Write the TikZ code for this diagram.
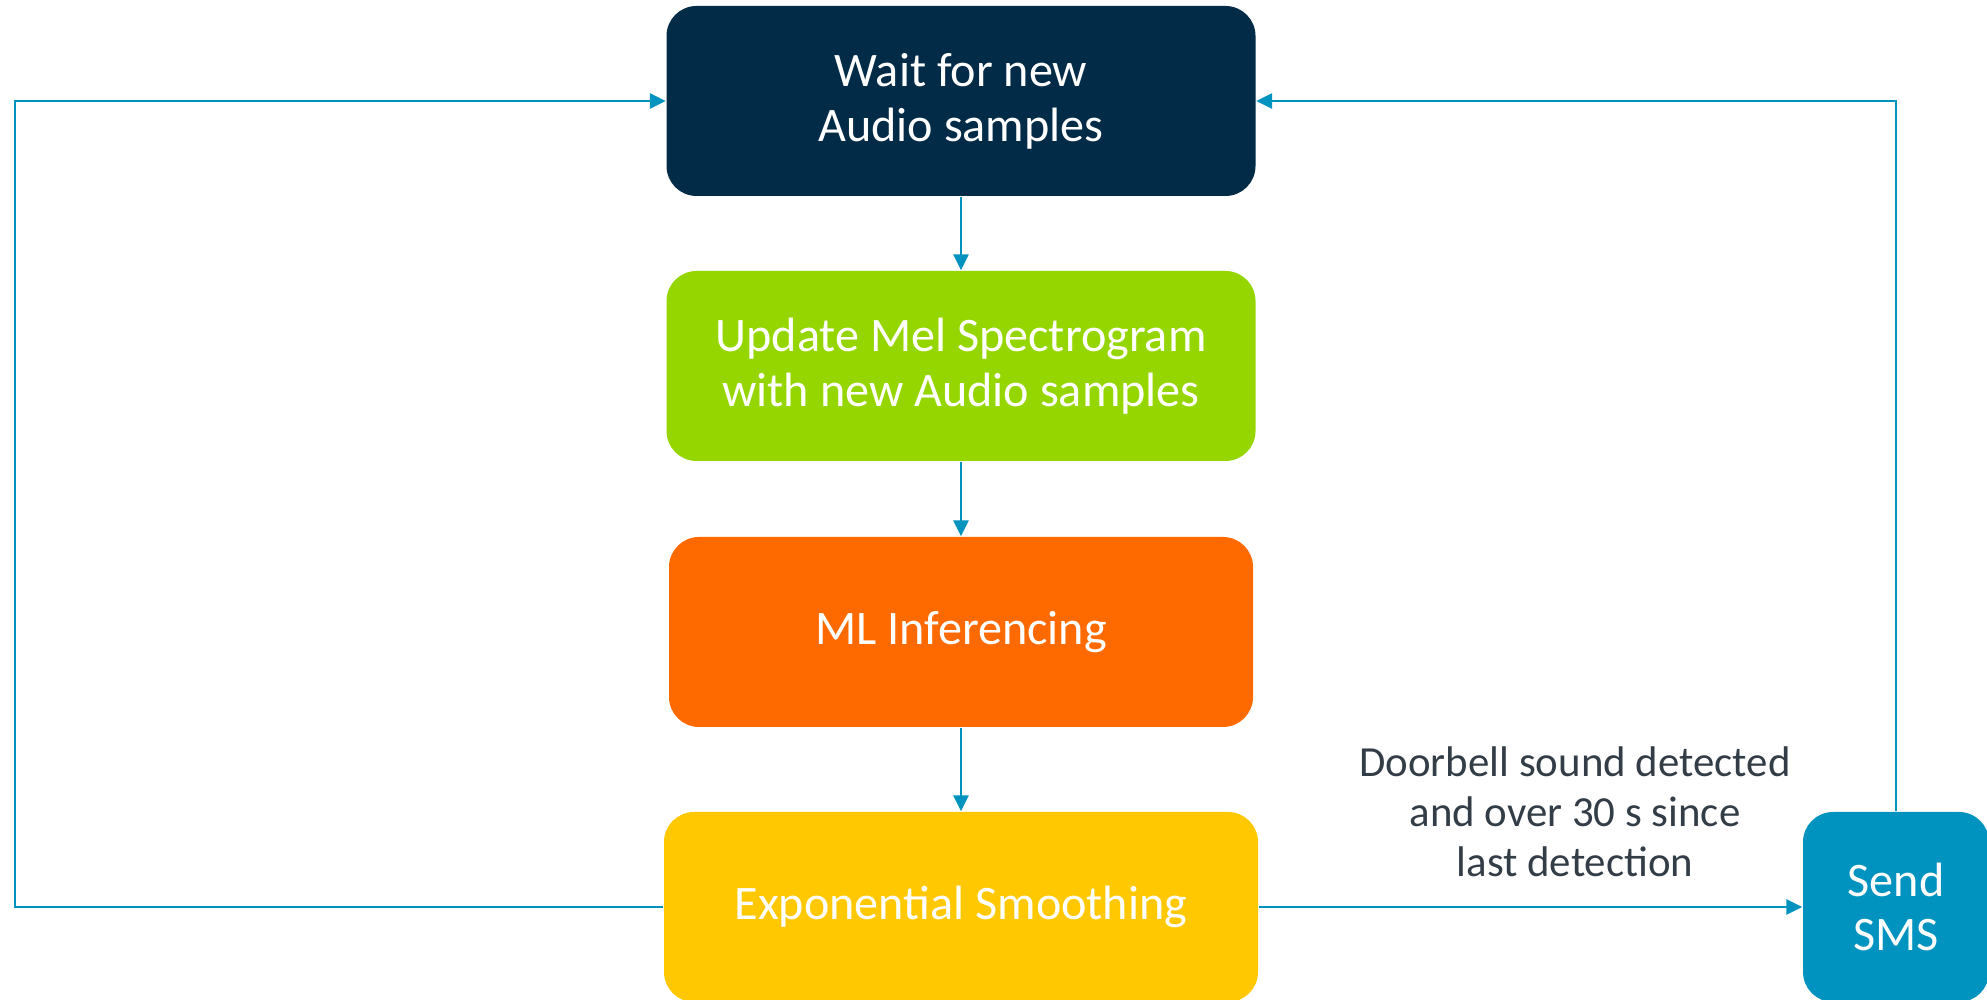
\documentclass[tikz,border=0pt]{standalone}
\usepackage{fontspec}
\setmainfont{Carlito}
\usetikzlibrary{arrows.meta}
\definecolor{waitnavy}{HTML}{022B47}
\definecolor{mellime}{HTML}{96D600}
\definecolor{mlorange}{HTML}{FF6A00}
\definecolor{smoothyellow}{HTML}{FFC800}
\definecolor{linkblue}{HTML}{0093BF}
\definecolor{labelgray}{HTML}{333D47}

\begin{document}
\begin{tikzpicture}[
  stage/.style={rounded corners=0.3cm, minimum height=1.9cm, text=white,
    align=center, font=\fontsize{13.7}{15.6}\selectfont},
  flow/.style={draw=linkblue, line width=0.8pt,
    -{Triangle[length=0.16cm, width=0.15cm]}}
]
  \useasboundingbox (0, 0) rectangle (19.87, 10);

  % the loop of stages
  \node[stage, fill=waitnavy, minimum width=5.89cm] (wait) at (9.61, 8.99)
    {Wait for new\\Audio samples};
  \node[stage, fill=mellime, minimum width=5.89cm] (mel) at (9.61, 6.34)
    {Update Mel Spectrogram\\with new Audio samples};
  \node[stage, fill=mlorange, minimum width=5.84cm] (infer) at (9.61, 3.68)
    {ML Inferencing};
  \node[stage, fill=smoothyellow, minimum width=5.94cm] (smooth) at (9.61, 0.93)
    {Exponential Smoothing};
  \node[stage, fill=linkblue, minimum width=1.86cm] (sms) at (18.96, 0.93)
    {Send\\SMS};

  \node[text=labelgray, align=center, font=\fontsize{12.2}{14.2}\selectfont]
    (cond) at (15.75, 1.88)
    {Doorbell sound detected\\and over 30 s since\\last detection};

  \coordinate (leftturn) at (0.15, 0.93);

  \draw[flow] (wait) -- (mel);
  \draw[flow] (mel) -- (infer);
  \draw[flow] (infer) -- (smooth);
  \draw[flow] (smooth) -- (sms);
  \draw[flow] (smooth.west) -- (leftturn) |- (wait.west);
  \draw[flow] (sms.north) |- (wait.east);
\end{tikzpicture}
\end{document}
